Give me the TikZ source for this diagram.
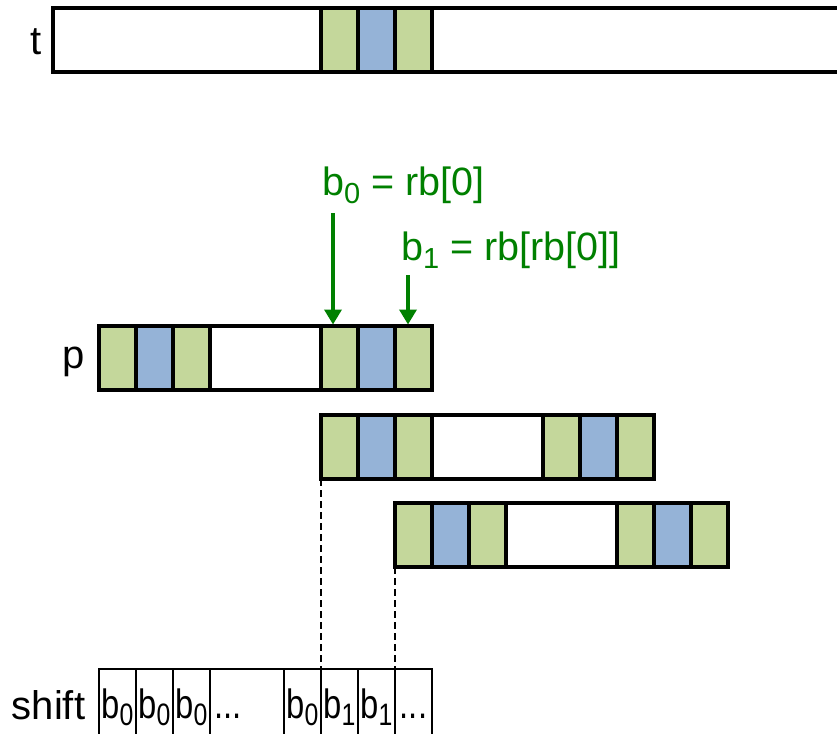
\documentclass[tikz,border=0pt]{standalone}
\usepackage{fontspec}
\usepackage{graphicx}
\setmainfont{Liberation Sans}
\usetikzlibrary{arrows.meta}

\definecolor{cellgreen}{HTML}{C4D79B}
\definecolor{cellblue}{HTML}{95B3D7}
\definecolor{labelgreen}{HTML}{008000}

% lowered subscripts for the green formulas and the shift table
\newcommand\gsub[1]{\raisebox{-8pt}{\fontsize{29}{31}\selectfont #1}}
\newcommand\ssub[1]{\raisebox{-7pt}{\fontsize{31}{33}\selectfont #1}}
\newcommand\narrow[1]{\scalebox{0.8}[1]{#1}}

\tikzset{
  cellbase/.style={draw=black, line width=3.1pt, anchor=north west, inner sep=0pt,
                   outer sep=0pt, minimum height=64pt, minimum width=37pt},
  gcell/.style={cellbase, fill=cellgreen},
  bcell/.style={cellbase, fill=cellblue},
  wcell/.style={cellbase, fill=white, minimum width=111pt},
  scell/.style={draw=black, line width=2.2pt, anchor=north west, inner sep=0pt,
                outer sep=0pt, minimum height=100pt, minimum width=37pt},
  rowlabel/.style={font=\fontsize{40}{48}\selectfont, anchor=base, inner sep=0pt},
  gtext/.style={text=labelgreen, font=\fontsize{39.5}{47}\selectfont, anchor=base west, inner sep=0pt},
  stext/.style={font=\fontsize{41}{49}\selectfont, anchor=base, inner sep=0pt},
  garrow/.style={draw=labelgreen, line width=3.5pt, shorten >=1.5pt,
                 -{Triangle[length=15pt,width=17pt]}},
  guide/.style={draw=black, line width=2.2pt, dash pattern=on 7pt off 4pt},
}

% a pattern of green/blue/green, a gap, and green/blue/green again
\newcommand\patternbar[3]{%
  \node[gcell] (#1g1) at (#2,#3) {};
  \node[bcell] (#1b1) at ({#2+37},#3) {};
  \node[gcell] (#1g2) at ({#2+74},#3) {};
  \node[wcell] (#1w)  at ({#2+111},#3) {};
  \node[gcell] (#1g3) at ({#2+222},#3) {};
  \node[bcell] (#1b2) at ({#2+259},#3) {};
  \node[gcell] (#1g4) at ({#2+296},#3) {};
}

\begin{document}
\begin{tikzpicture}[x=1pt, y=-1pt]
  \useasboundingbox (0,0) rectangle (837,733);
  \clip (0,0) rectangle (837,733);
  \fill[white] (0,0) rectangle (837,733);

  % text t
  \node[wcell, minimum width=268pt] (tw1) at (53,8) {};
  \node[gcell] (tg1) at (321,8) {};
  \node[bcell] (tb1) at (358,8) {};
  \node[gcell] (tg2) at (395,8) {};
  \node[wcell, minimum width=440pt] (tw2) at (432,8) {};
  \node[rowlabel] (tlab) at (36,55) {t};

  % pattern p and its two shifted copies
  \patternbar{p}{99}{326}
  \node[rowlabel] (plab) at (74,368) {p};
  \patternbar{sa}{321}{415}
  \patternbar{sb}{395}{503}

  % border shifts
  \node[gtext] (lbzero) at (322,195) {b\gsub{0} = rb[0]};
  \node[gtext] (lbone)  at (401,260) {b\gsub{1} = rb[rb[0]]};
  \coordinate (azero) at (333,213);
  \coordinate (aone)  at (408,275);
  \draw[garrow] (azero) -- (azero |- pg3.north);
  \draw[garrow] (aone) -- (aone |- pg4.north);

  % shift table
  \node[scell] (s1) at (99,669) {};
  \node[scell] (s2) at (136,669) {};
  \node[scell] (s3) at (173,669) {};
  \node[scell, minimum width=74pt] (s4) at (210,669) {};
  \node[scell] (s5) at (284,669) {};
  \node[scell] (s6) at (321,669) {};
  \node[scell] (s7) at (358,669) {};
  \node[scell] (s8) at (395,669) {};
  \node[rowlabel] (slab) at (48.5,719) {shift};

  \node[stext] (v1) at (117.5,718) {\narrow{b\ssub{0}}};
  \node[stext] (v2) at (154.5,718) {\narrow{b\ssub{0}}};
  \node[stext] (v3) at (191.5,718) {\narrow{b\ssub{0}}};
  \node[stext, anchor=base west] (v4) at (214,718) {\narrow{...}};
  \node[stext] (v5) at (302.5,718) {\narrow{b\ssub{0}}};
  \node[stext] (v6) at (339.5,718) {\narrow{b\ssub{1}}};
  \node[stext] (v7) at (376.5,718) {\narrow{b\ssub{1}}};
  \node[stext] (v8) at (413.5,718) {\narrow{...}};

  % guides from the shifted copies down to the table
  \draw[guide] (sag1.south west) -- (s6.north west);
  \draw[guide] (sbg1.south west) -- (s8.north west);
\end{tikzpicture}
\end{document}
